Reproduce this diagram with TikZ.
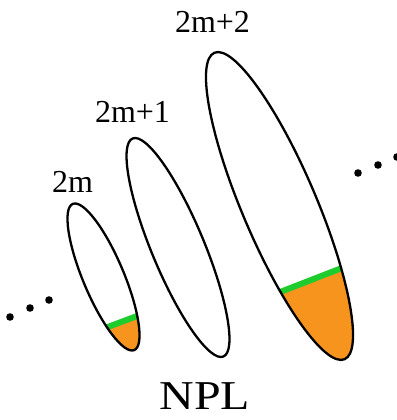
\documentclass[tikz,border=0pt]{standalone}
\usepackage{fontspec}
\setmainfont{Liberation Serif}
\usepackage{tikz}
\usepackage{xcolor}
\definecolor{lobeorange}{RGB}{247,148,30}
\definecolor{lobegreen}{RGB}{30,205,45}

\tikzset{
    lobe/.style={draw=black, line width=2.3pt},
    lobelabel/.style={anchor=base, font=\fontsize{32}{38}\selectfont},
    band/.style={draw=lobegreen, line width=6pt},
}

\begin{document}
\begin{tikzpicture}[x=1pt,y=1pt]
    \useasboundingbox (0,0) rectangle (396,420);

    % lower part of the 2m lobe
    \begin{scope}
        \clip[shift={(103.5,143)}, rotate=112.8] (0,0) ellipse [x radius=79.3pt, y radius=20.4pt];
        \fill[lobeorange] (60,75.1) -- (180,120.1) -- (180,40) -- (60,40) -- cycle;
        \draw[band] (60,75.1) -- (180,120.1);
    \end{scope}

    % lower part of the 2m+2 lobe
    \begin{scope}
        \clip[shift={(279.5,214)}, rotate=113] (0,0) ellipse [x radius=166.5pt, y radius=37.2pt];
        \fill[lobeorange] (230,108.5) -- (400,174.6) -- (400,40) -- (230,40) -- cycle;
        \draw[band] (230,108.5) -- (400,174.6);
    \end{scope}

    \draw[lobe, shift={(103.5,143)}, rotate=112.8] (0,0) ellipse [x radius=79.3pt, y radius=20.4pt];
    \draw[lobe, shift={(178,172.5)}, rotate=112.6] (0,0) ellipse [x radius=118.1pt, y radius=26.3pt];
    \draw[lobe, shift={(279.5,214)}, rotate=113] (0,0) ellipse [x radius=166.5pt, y radius=37.2pt];

    \node[lobelabel] (lbl2m) at (72.5,227) {2m};
    \node[lobelabel] (lbl2mone) at (132.5,297) {2m+1};
    \node[lobelabel] (lbl2mtwo) at (212.5,387) {2m+2};
    \node[anchor=base, font=\fontsize{41}{48}\selectfont, xscale=1.17] (npl) at (205,10) {NPL};

    % dots on both sides
    \fill (10,103) circle (3.8pt);
    \fill (30,112) circle (3.8pt);
    \fill (49,120) circle (3.8pt);
    \fill (358,247) circle (3.8pt);
    \fill (378,255) circle (3.8pt);
    \fill (397,263) circle (3.8pt);
\end{tikzpicture}
\end{document}
